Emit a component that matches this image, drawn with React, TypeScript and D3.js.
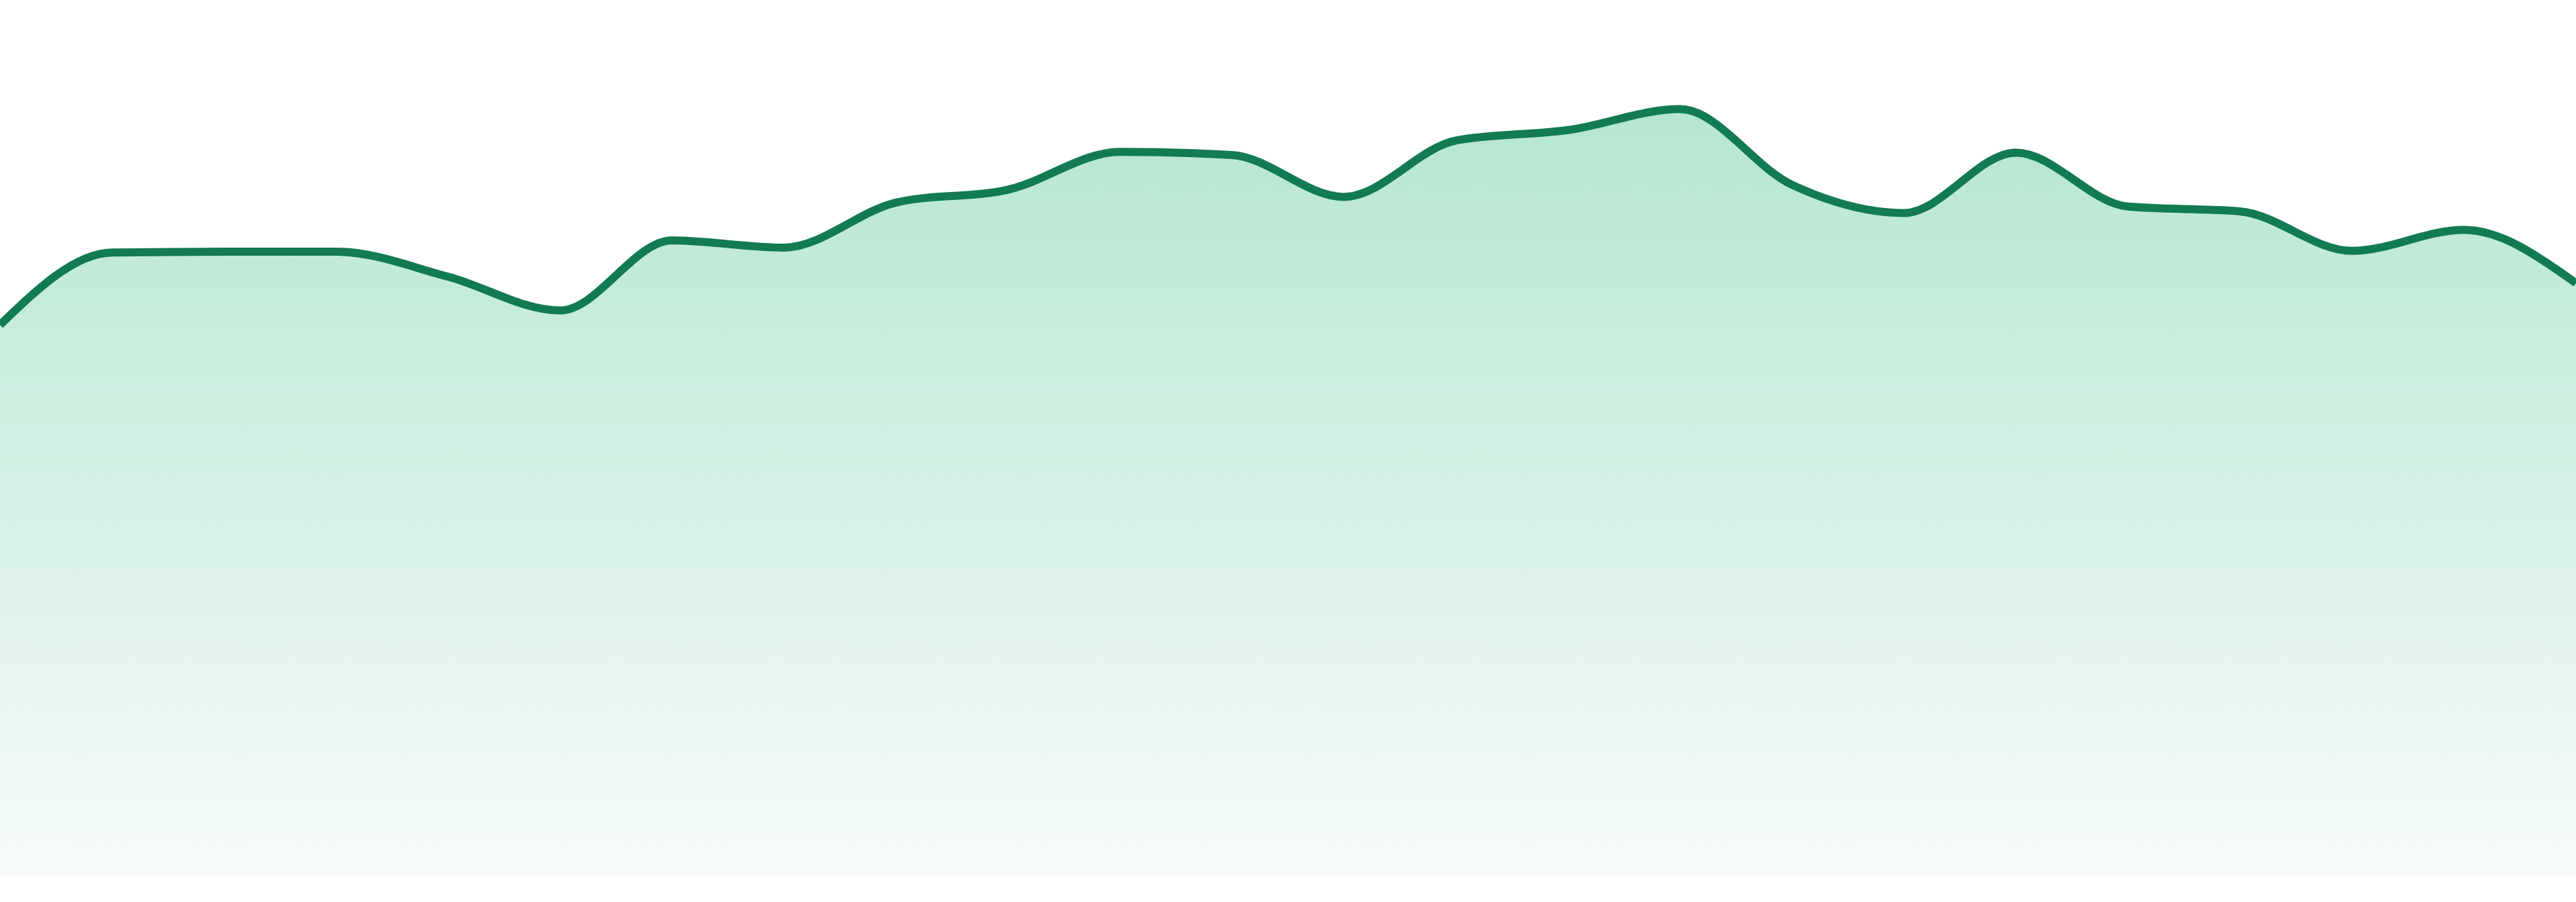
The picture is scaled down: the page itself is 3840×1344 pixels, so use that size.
import { useEffect, useRef } from 'react'
import * as d3 from 'd3'

// one value per step
const steps = d3.range(24)
const values = [
  68.4, 77.4, 77.5, 77.5, 74.4, 70.2, 78.9, 78.0, 83.6, 85.2, 89.9, 89.5,
  84.3, 91.3, 92.6, 95.2, 85.8, 82.3, 89.8, 83.1, 82.5, 77.6, 80.2, 73.6,
]

const width = 3840
const height = 1344
const baseline = 1305

export default function App() {
  const svgRef = useRef<SVGSVGElement>(null)

  useEffect(() => {
    if (!svgRef.current) return
    const svg = d3.select(svgRef.current)
    svg.selectAll('*').remove()

    const xScale = d3.scaleLinear()
      .domain([0, steps.length - 1])
      .range([0, width])

    const yScale = d3.scaleLinear()
      .domain([0, 100])
      .range([baseline, 105])

    const data = steps.map(i => ({ i, v: values[i] }))

    const grad = svg.append('defs')
      .append('linearGradient')
      .attr('id', 'areaFill')
      .attr('gradientUnits', 'userSpaceOnUse')
      .attr('x1', 0).attr('x2', 0)
      .attr('y1', yScale(d3.max(values) || 0))
      .attr('y2', baseline)
    grad.append('stop').attr('offset', '0%').attr('stop-color', '#b5e6d1')
    grad.append('stop').attr('offset', '100%').attr('stop-color', '#f6fbf9')

    const area = d3.area<{ i: number; v: number }>()
      .x(d => xScale(d.i))
      .y0(baseline)
      .y1(d => yScale(d.v))
      .curve(d3.curveMonotoneX)

    const line = d3.line<{ i: number; v: number }>()
      .x(d => xScale(d.i))
      .y(d => yScale(d.v))
      .curve(d3.curveMonotoneX)

    svg.append('path')
      .datum(data)
      .attr('d', area)
      .attr('fill', 'url(#areaFill)')

    svg.append('path')
      .datum(data)
      .attr('d', line)
      .attr('fill', 'none')
      .attr('stroke', '#127b51')
      .attr('stroke-width', 12)
      .attr('stroke-linejoin', 'round')
  }, [])

  return (
    <svg
      ref={svgRef}
      width={width}
      height={height}
      style={{ position: 'absolute', left: 0, top: 0, display: 'block', background: '#fff' }}
    />
  )
}
